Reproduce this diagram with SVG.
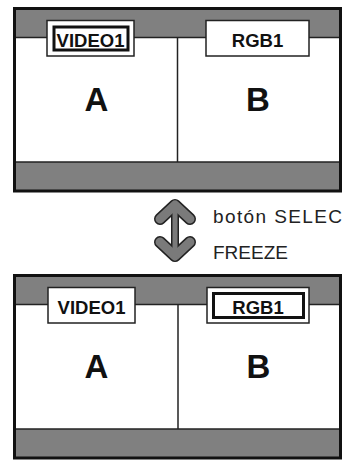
<svg xmlns="http://www.w3.org/2000/svg" width="342" height="461" viewBox="0 0 342 461">
<style>
.bg{fill:#ffffff}
.band{fill:#808080}
.frame{fill:none;stroke:#111;stroke-width:3}
.line{stroke:#222;stroke-width:1.5;fill:none}
.box{fill:#fff;stroke:#222;stroke-width:1.5}
.inner{fill:none;stroke:#111;stroke-width:3}
.lbl{font-family:"Liberation Sans",Arial,Helvetica,sans-serif;font-weight:bold;font-size:18.5px;fill:#111;text-anchor:middle}
.big{font-family:"Liberation Sans",Arial,Helvetica,sans-serif;font-weight:bold;font-size:33px;fill:#111;text-anchor:middle}
.cap{font-family:"Liberation Sans",Arial,Helvetica,sans-serif;font-size:19px;fill:#222}
.arO{fill:none;stroke:#222;stroke-linecap:round;stroke-linejoin:round}
.arI{fill:none;stroke:#7a7a7a;stroke-linecap:round;stroke-linejoin:round}
</style>
<rect class="bg" x="0" y="0" width="342" height="461"/>
<g id="screen-top">
  <rect class="band" x="14" y="8" width="327" height="29.5"/>
  <rect class="band" x="14" y="162" width="327" height="29.5"/>
  <line class="line" x1="14" y1="37.5" x2="341" y2="37.5"/>
  <line class="line" x1="14" y1="162" x2="341" y2="162"/>
  <line class="line" x1="177.5" y1="37.5" x2="177.5" y2="162"/>
  <rect class="frame" x="14.5" y="8.5" width="326" height="182.5"/>
  <text class="big" x="96.5" y="111">A</text>
  <text class="big" x="258" y="111">B</text>
</g>
<g id="video1-top">
  <rect class="box" x="47" y="20.5" width="87" height="35.5"/>
  <rect class="inner" x="54" y="27" width="74" height="23"/>
  <text class="lbl" x="90.5" y="46.5">VIDEO1</text>
</g>
<g id="rgb1-top">
  <rect class="box" x="206" y="20.5" width="103" height="35.5"/>
  <text class="lbl" x="257.5" y="46.5">RGB1</text>
</g>
<g id="connectors">
  <path class="arO" stroke-width="12" d="M160,219 L175,205 L190,219 M160,242 L175,256 L190,242"/>
  <path class="arO" stroke-width="8" d="M175,205 L175,256"/>
  <path class="arI" stroke-width="9" d="M160,219 L175,205 L190,219 M160,242 L175,256 L190,242"/>
  <path class="arI" stroke-width="5" d="M175,205 L175,256"/>
</g>
<g id="caption">
  <text class="cap" x="213" y="223" textLength="129" lengthAdjust="spacing">botón SELEC</text>
  <text class="cap" x="213" y="258.5">FREEZE</text>
</g>
<g id="screen-bottom">
  <rect class="band" x="14" y="275" width="327" height="29.5"/>
  <rect class="band" x="14" y="429" width="327" height="29.5"/>
  <line class="line" x1="14" y1="304.5" x2="341" y2="304.5"/>
  <line class="line" x1="14" y1="429" x2="341" y2="429"/>
  <line class="line" x1="178" y1="304.5" x2="178" y2="429"/>
  <rect class="frame" x="14.5" y="275.5" width="326" height="182.5"/>
  <text class="big" x="96.5" y="378">A</text>
  <text class="big" x="258.5" y="378">B</text>
</g>
<g id="video1-bottom">
  <rect class="box" x="48" y="287.5" width="87" height="35.5"/>
  <text class="lbl" x="91.5" y="313.5">VIDEO1</text>
</g>
<g id="rgb1-bottom">
  <rect class="box" x="207" y="287.5" width="102" height="35.5"/>
  <rect class="inner" x="213.5" y="293.5" width="90" height="24"/>
  <text class="lbl" x="258" y="313.5">RGB1</text>
</g>
</svg>
